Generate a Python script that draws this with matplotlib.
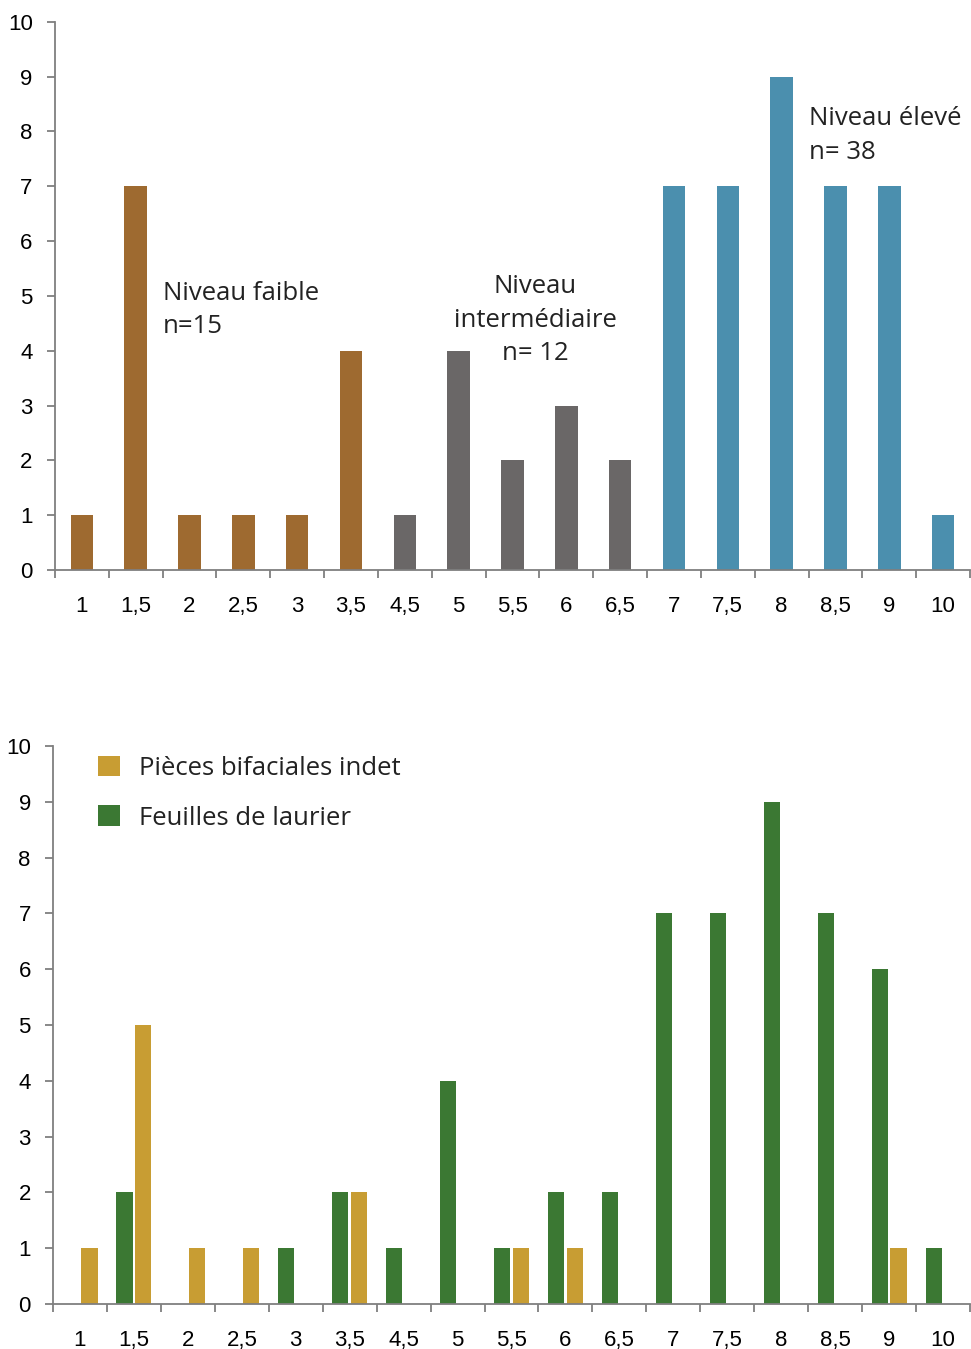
import numpy as np
import matplotlib.pyplot as plt

plt.rcParams['font.family'] = ['Liberation Sans', 'DejaVu Sans']

# données
categories = ['1', '1,5', '2', '2,5', '3', '3,5', '4,5', '5', '5,5', '6', '6,5',
              '7', '7,5', '8', '8,5', '9', '10']
niveau_total = [1, 7, 1, 1, 1, 4, 1, 4, 2, 3, 2, 7, 7, 9, 7, 7, 1]
niveau_groupe = ['faible'] * 6 + ['inter'] * 5 + ['eleve'] * 6
feuilles_laurier = [0, 2, 0, 0, 1, 2, 1, 4, 1, 2, 2, 7, 7, 9, 7, 6, 1]
pieces_indet = [1, 5, 1, 1, 0, 2, 0, 0, 1, 1, 0, 0, 0, 0, 0, 1, 0]

couleurs_groupe = {'faible': '#9e6a30', 'inter': '#6a6767', 'eleve': '#4b8fae'}
c_gold = '#c89d33'
c_green = '#3b7833'
c_axe = '#7f7f7f'
txt_font = ['Open Sans', 'DejaVu Sans']

fig = plt.figure(figsize=(9.71, 13.49), dpi=100)
ax1 = fig.add_axes([0.0566, 0.5775, 0.9424, 0.4063])
ax2 = fig.add_axes([0.0546, 0.0334, 0.9444, 0.4136])

x = np.arange(len(categories))


def style_axe(ax):
    ax.set_xlim(-0.5, len(categories) - 0.5)
    ax.set_ylim(0, 10)
    ax.set_yticks(range(0, 11))
    for s in ['top', 'right']:
        ax.spines[s].set_visible(False)
    for s in ['left', 'bottom']:
        ax.spines[s].set_color(c_axe)
        ax.spines[s].set_linewidth(1.3)
    # ticks aux limites des catégories, étiquettes au centre
    ax.set_xticks(np.arange(-0.5, len(categories), 1.0))
    ax.set_xticklabels([])
    ax.set_xticks(x, minor=True)
    ax.set_xticklabels(categories, minor=True)
    ax.tick_params(axis='x', which='major', length=6, width=1.3, color=c_axe)
    ax.tick_params(axis='x', which='minor', length=0, pad=19, labelsize=16)
    ax.tick_params(axis='y', length=6, width=1.3, color=c_axe, pad=10, labelsize=16)


# graphique du haut
couleurs = [couleurs_groupe[g] for g in niveau_groupe]
ax1.bar(x, niveau_total, width=0.42, color=couleurs)
style_axe(ax1)
ax1.text(1.5, 4.74, 'Niveau faible\nn=15', fontsize=18.5, family=txt_font,
         va='center', ha='left', linespacing=1.45, color='#222222')
ax1.text(8.42, 4.56, 'Niveau\nintermédiaire\nn= 12', fontsize=18.5, family=txt_font,
         va='center', ha='center', multialignment='center', linespacing=1.45,
         color='#222222')
ax1.text(13.5, 7.93, 'Niveau élevé\nn= 38', fontsize=18.5, family=txt_font,
         va='center', ha='left', linespacing=1.45, color='#222222')

# graphique du bas
w = 0.3
ax2.bar(x + 0.175, pieces_indet, width=w, color=c_gold, label='Pièces bifaciales indet')
ax2.bar(x - 0.175, feuilles_laurier, width=w, color=c_green, label='Feuilles de laurier')
style_axe(ax2)
leg = ax2.legend(loc='upper left', bbox_to_anchor=(0.032, 1.01), frameon=False,
                 prop={'family': txt_font, 'size': 18.5}, handlelength=0.86,
                 handleheight=0.86, handletextpad=0.75, labelspacing=0.95,
                 borderaxespad=0.2)
for t in leg.get_texts():
    t.set_color('#222222')

plt.savefig('out.png', dpi=100)
